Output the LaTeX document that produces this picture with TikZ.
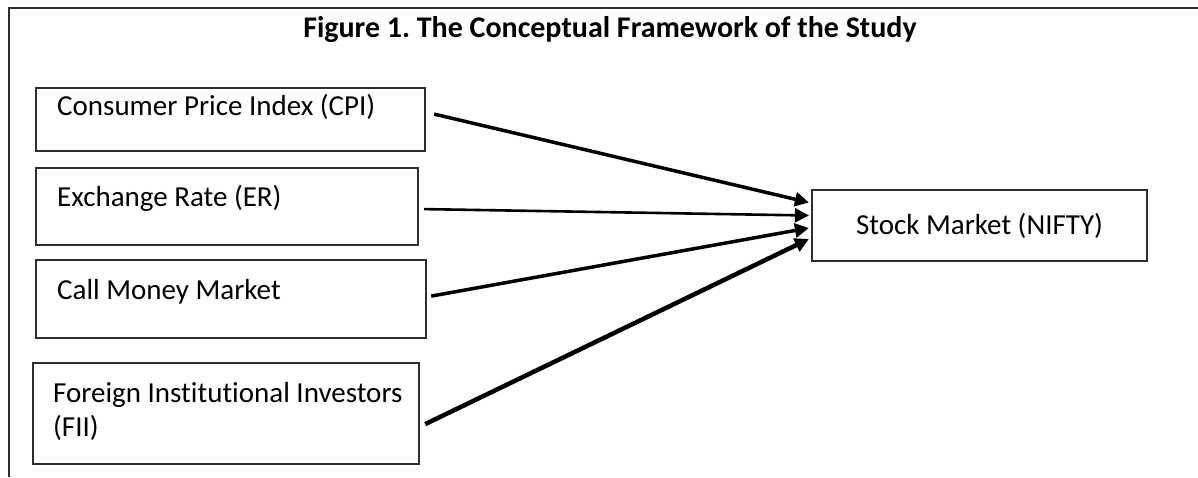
\documentclass[tikz,border=0pt]{standalone}
\usepackage{fontspec}
\setmainfont{Carlito}[Ligatures=NoCommon]
\usetikzlibrary{arrows.meta}
\definecolor{edge}{HTML}{2E2E2E}
\tikzset{
  box/.style={draw=edge, line width=2.2pt, fill=white, inner sep=0pt},
  txt/.style={inner sep=0pt, font=\fontsize{29}{34}\selectfont, text=black},
  link/.style={draw=black, line width=3.5pt, -{Triangle[length=14pt,width=14pt]}},
}
\begin{document}
\frenchspacing
\begin{tikzpicture}[x=1pt,y=-1pt]
\useasboundingbox (0,0) rectangle (1198,477);
% frame
\draw[draw=edge, line width=2.4pt] (9,477) -- (9,8) -- (1198,8);
% title
\node[inner sep=0pt, anchor=base, font=\fontsize{30}{36}\selectfont\bfseries] (title) at (610,37) {Figure 1. The Conceptual Framework of the Study};
% boxes
\node[box, anchor=north west, minimum width=389pt, minimum height=63pt] (cpi) at (35,87) {};
\node[txt, anchor=base west] (cpit) at (57,115) {Consumer Price Index (CPI)};
\node[box, anchor=north west, minimum width=382pt, minimum height=77pt] (er) at (35,167) {};
\node[txt, anchor=base west] (ert) at (57,206) {Exchange Rate (ER)};
\node[box, anchor=north west, minimum width=390pt, minimum height=78pt] (cmm) at (35,259) {};
\node[txt, anchor=base west] (cmmt) at (57,299) {Call Money Market};
\node[box, anchor=north west, minimum width=386pt, minimum height=101pt] (fii) at (32,362) {};
\node[txt, anchor=base west] (fiit1) at (53,402) {Foreign Institutional Investors};
\node[txt, anchor=base west] (fiit2) at (53,436) {(FII)};
\node[box, minimum width=335pt, minimum height=71pt, txt] (nifty) at (979.5,225.5) {Stock Market (NIFTY)};
% connectors
\draw[link] ([xshift=8pt,yshift=5.5pt]cpi.east) -- ([xshift=-2pt,yshift=23pt]nifty.west);
\draw[link, line width=2.6pt] ([xshift=5pt,yshift=-2.5pt]er.east) -- ([xshift=-2pt,yshift=10pt]nifty.west);
\draw[link] ([xshift=4pt,yshift=3pt]cmm.east) -- ([xshift=-2pt,yshift=-2.5pt]nifty.west);
\draw[link, line width=4.5pt] ([xshift=5pt,yshift=-10.5pt]fii.east) -- ([xshift=-2pt,yshift=-13.5pt]nifty.west);
\end{tikzpicture}
\end{document}
